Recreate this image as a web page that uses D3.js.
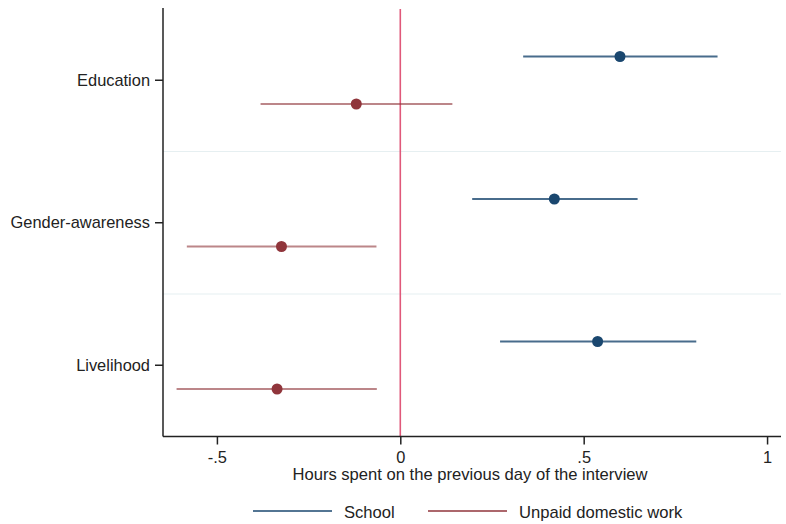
<!DOCTYPE html>
<meta charset="utf-8">
<title>Coefficient plot</title>
<style>
body { margin: 0; background: white; font-family: "Liberation Sans", Arial, sans-serif; }
svg { display: block; }
.axis text { font-size: 16.4px; fill: #222; font-family: "Liberation Sans", Arial, sans-serif; }
.axis path, .axis line { stroke: #222; stroke-width: 1.5px; }
</style>
<body>
<script src="https://d3js.org/d3.v7.min.js"></script>
<script>

// categories and series
var categories = ["Education", "Gender-awareness", "Livelihood"];
var seriesNames = ["School", "Unpaid domestic work"];
var seriesColors = ["#1a476f", "#90353b"];

// point estimates and 95% CI, one entry per category
var schoolEst  = [0.599, 0.420, 0.538];
var schoolLo   = [0.335, 0.196, 0.272];
var schoolHi   = [0.865, 0.647, 0.807];
var unpaidEst  = [-0.120, -0.324, -0.336];
var unpaidLo   = [-0.381, -0.582, -0.610];
var unpaidHi   = [0.142, -0.065, -0.064];

var xTicks = [-0.5, 0, 0.5, 1];
var xTickLabels = ["-.5", "0", ".5", "1"];

var width = 786, height = 524;
var margin = {top: 9, right: 5, bottom: 88, left: 163};
var plotW = 781 - margin.left, plotH = 436.5 - margin.top;

var svg = d3.select("body").append("svg")
    .attr("width", width)
    .attr("height", height);

var g = svg.append("g")
    .attr("transform", "translate(" + margin.left + "," + margin.top + ")");

var x = d3.scaleLinear()
    .domain([-0.647, 1.038])
    .range([0, plotW]);

var y = d3.scaleBand()
    .domain(categories)
    .range([0, plotH])
    .padding(0);

// offsets of the two series inside each band
var off = d3.scalePoint()
    .domain(seriesNames)
    .range([-y.bandwidth() / 6, y.bandwidth() / 6]);

// light separators between categories
g.selectAll("line.sep")
  .data(categories.slice(1))
  .enter().append("line")
    .attr("class", "sep")
    .attr("x1", 0).attr("x2", plotW)
    .attr("y1", function(d) { return y(d); })
    .attr("y2", function(d) { return y(d); })
    .attr("stroke", "#e6eff1")
    .attr("stroke-width", 1.2);

// zero line
g.append("line")
    .attr("x1", x(0)).attr("x2", x(0))
    .attr("y1", 0).attr("y2", plotH)
    .attr("stroke", "#e0587a")
    .attr("stroke-width", 1.6);

// build rows
var rows = [];
categories.forEach(function(c, i) {
  rows.push({cat: c, s: 0, est: schoolEst[i], lo: schoolLo[i], hi: schoolHi[i]});
  rows.push({cat: c, s: 1, est: unpaidEst[i], lo: unpaidLo[i], hi: unpaidHi[i]});
});
function rowY(d) { return y(d.cat) + y.bandwidth() / 2 + off(seriesNames[d.s]); }

// confidence intervals
g.selectAll("line.ci")
  .data(rows)
  .enter().append("line")
    .attr("class", "ci")
    .attr("x1", function(d) { return x(d.lo); })
    .attr("x2", function(d) { return x(d.hi); })
    .attr("y1", rowY).attr("y2", rowY)
    .attr("stroke", function(d) { return seriesColors[d.s]; })
    .attr("stroke-opacity", function(d) { return d.s === 0 ? 0.8 : 0.6; })
    .attr("stroke-width", 1.8);

// points
g.selectAll("circle.pt")
  .data(rows)
  .enter().append("circle")
    .attr("class", "pt")
    .attr("cx", function(d) { return x(d.est); })
    .attr("cy", rowY)
    .attr("r", 5.5)
    .attr("fill", function(d) { return seriesColors[d.s]; });

// Y axis
var yAxis = g.append("g")
    .attr("class", "axis")
    .call(d3.axisLeft(y).tickSize(8).tickPadding(5).tickSizeOuter(0));
yAxis.select(".domain").attr("d", "M0,-1V" + plotH);

// X axis
var xAxis = g.append("g")
    .attr("class", "axis")
    .attr("transform", "translate(0," + plotH + ")")
    .call(d3.axisBottom(x).tickValues(xTicks)
      .tickFormat(function(d, i) { return xTickLabels[i]; })
      .tickSize(8).tickPadding(7).tickSizeOuter(0));
xAxis.select(".domain").attr("d", "M0,0H" + plotW);

// axis title
svg.append("text")
    .attr("x", margin.left + plotW / 2 - 2)
    .attr("y", 480)
    .attr("text-anchor", "middle")
    .style("font-size", "16.6px")
    .style("fill", "#222")
    .text("Hours spent on the previous day of the interview");

// legend
var legX = [253, 428];
var legend = svg.selectAll("g.leg")
  .data(seriesNames)
  .enter().append("g")
    .attr("class", "leg")
    .attr("transform", function(d, i) { return "translate(" + legX[i] + ",511)"; });
legend.append("line")
    .attr("x1", 0).attr("x2", 79)
    .attr("stroke", function(d, i) { return seriesColors[i]; })
    .attr("stroke-width", 1.3);
legend.append("text")
    .attr("x", 91)
    .attr("y", 7)
    .style("font-size", "16.6px")
    .style("fill", "#222")
    .text(function(d) { return d; });

</script>
</body>
